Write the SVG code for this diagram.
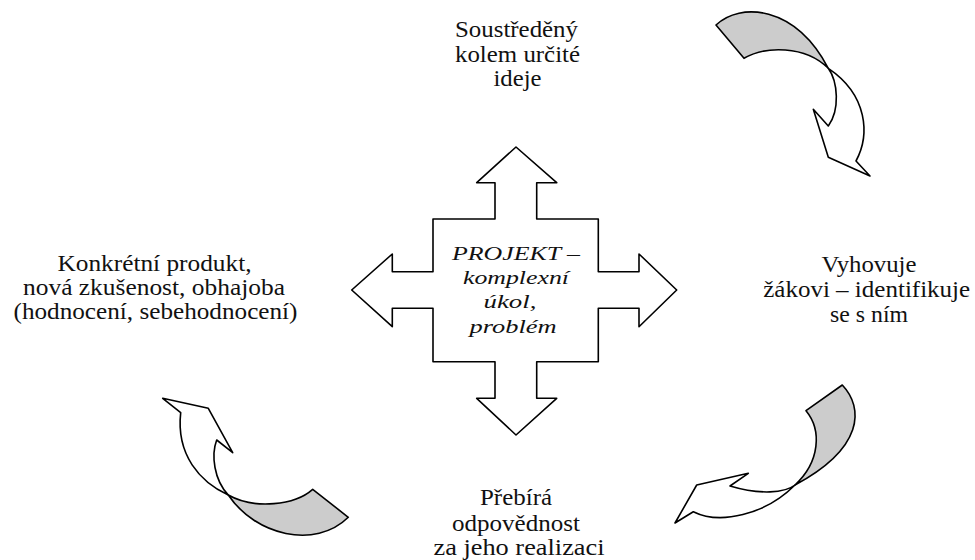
<svg xmlns="http://www.w3.org/2000/svg" width="975" height="560" viewBox="0 0 975 560">
<style>
.w{fill:#fff;stroke:#000;stroke-width:1.6;stroke-linejoin:round}
.g{fill:#cccccc;stroke:#000;stroke-width:1.6;stroke-linejoin:round}
</style>
<rect width="975" height="560" fill="#fff"/>
<g id="center">
<polygon class="w" points="516,147 556.7,182.7 536.7,182.7 536.7,219 598.3,219 598.3,271.7 639,271.7 639,254 676.7,290 639,326.7 639,308.3 598.3,308.3 598.3,361.7 536.7,361.7 536.7,398.3 556.7,398.3 516,435 476.7,398.3 495,398.3 495,361.7 433,361.7 433,308.3 392.3,308.3 392.3,326.7 351.7,290 392.3,254 392.3,271.7 433,271.7 433,219 495,219 495,182.7 476.7,182.7"/>
<text font-family="Liberation Serif, serif" font-size="19" font-style="italic" fill="#111" text-anchor="middle" x="516" y="260" textLength="128" lengthAdjust="spacingAndGlyphs">PROJEKT –</text>
<text font-family="Liberation Serif, serif" font-size="19" font-style="italic" fill="#111" text-anchor="middle" x="516" y="284" textLength="106" lengthAdjust="spacingAndGlyphs">komplexní</text>
<text font-family="Liberation Serif, serif" font-size="19" font-style="italic" fill="#111" text-anchor="middle" x="510" y="308" textLength="53" lengthAdjust="spacingAndGlyphs">úkol,</text>
<text font-family="Liberation Serif, serif" font-size="19" font-style="italic" fill="#111" text-anchor="middle" x="513" y="333" textLength="87" lengthAdjust="spacingAndGlyphs">problém</text>
</g>
<g id="top">
<text font-family="Liberation Serif, serif" font-size="23" fill="#111" text-anchor="middle" x="516.5" y="37" textLength="123" lengthAdjust="spacingAndGlyphs">Soustředěný</text>
<text font-family="Liberation Serif, serif" font-size="23" fill="#111" text-anchor="middle" x="517.5" y="61.5" textLength="125" lengthAdjust="spacingAndGlyphs">kolem určité</text>
<text font-family="Liberation Serif, serif" font-size="23" fill="#111" text-anchor="middle" x="517.5" y="86" textLength="48" lengthAdjust="spacingAndGlyphs">ideje</text>
</g>
<g id="right">
<text font-family="Liberation Serif, serif" font-size="23" fill="#111" text-anchor="middle" x="869" y="272" textLength="95" lengthAdjust="spacingAndGlyphs">Vyhovuje</text>
<text font-family="Liberation Serif, serif" font-size="23" fill="#111" text-anchor="middle" x="866.7" y="297" textLength="207" lengthAdjust="spacingAndGlyphs">žákovi – identifikuje</text>
<text font-family="Liberation Serif, serif" font-size="23" fill="#111" text-anchor="middle" x="869" y="322" textLength="78" lengthAdjust="spacingAndGlyphs">se s ním</text>
</g>
<g id="bottom">
<text font-family="Liberation Serif, serif" font-size="23" fill="#111" text-anchor="middle" x="516" y="505" textLength="72" lengthAdjust="spacingAndGlyphs">Přebírá</text>
<text font-family="Liberation Serif, serif" font-size="23" fill="#111" text-anchor="middle" x="516" y="530.5" textLength="128" lengthAdjust="spacingAndGlyphs">odpovědnost</text>
<text font-family="Liberation Serif, serif" font-size="23" fill="#111" text-anchor="middle" x="519" y="555" textLength="171" lengthAdjust="spacingAndGlyphs">za jeho realizaci</text>
</g>
<g id="left">
<text font-family="Liberation Serif, serif" font-size="23" fill="#111" text-anchor="middle" x="154.5" y="271" textLength="194" lengthAdjust="spacingAndGlyphs">Konkrétní produkt,</text>
<text font-family="Liberation Serif, serif" font-size="23" fill="#111" text-anchor="middle" x="154" y="295" textLength="262" lengthAdjust="spacingAndGlyphs">nová zkušenost, obhajoba</text>
<text font-family="Liberation Serif, serif" font-size="23" fill="#111" text-anchor="middle" x="155.5" y="319" textLength="284" lengthAdjust="spacingAndGlyphs">(hodnocení, sebehodnocení)</text>
</g>
<g id="connectors">
<g id="arrow-top-right">
<path class="g" d="M716,25 C740,2 795,5 828.3,68.3 C805,45 765,46 744,58.3 Z"/>
<path class="w" d="M828.3,68.3 C838,82 840,110 828.3,126 L813.3,109.3 L828.3,157.3 L870,176 L856,161 C870,135 868,95 828.3,68.3 Z"/>
</g>
<g id="arrow-bottom-right">
<path class="g" d="M842.3,385 C864,408 864,448 795,485 C820,462 822,430 806,410.7 Z"/>
<path class="w" d="M795,485 C785,493 760,495 730,486 L748.3,473.3 L696.7,485 L675,523 L693.3,511.7 C720,525 765,515 795,485 Z"/>
</g>
<g id="arrow-bottom-left">
<path class="g" d="M312.7,489.3 C295,505 255,510 228.3,495 C255,535 315,550 348.3,517.3 Z"/>
<path class="w" d="M228.3,495 C200,482 176,455 180.7,412.7 L162.7,398.3 L208.3,408.3 L232.7,452.7 L216.7,440 C211,455 214,480 228.3,495 Z"/>
</g>
</g>
</svg>
